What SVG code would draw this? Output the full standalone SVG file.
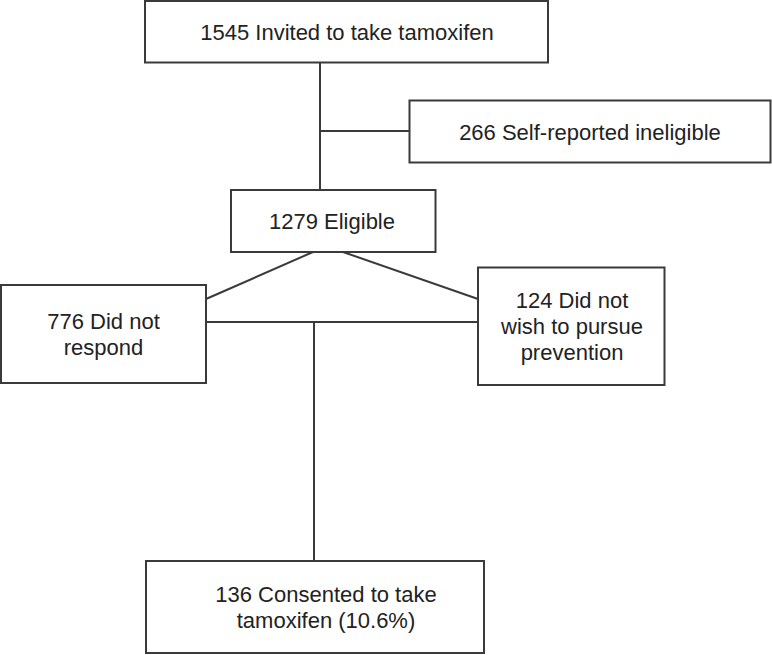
<svg xmlns="http://www.w3.org/2000/svg" width="772" height="655" viewBox="0 0 772 655">
<style>
.box{fill:#fff;stroke:#3a3a3a;stroke-width:2}
.ln{stroke:#3a3a3a;stroke-width:2;fill:none}
text{font-family:"Liberation Sans",Arial,sans-serif;font-size:22px;fill:#222;text-anchor:middle}
</style>
<rect width="772" height="655" fill="#fff"/>
<g id="connectors">
<line class="ln" x1="320" y1="62" x2="320" y2="190"/>
<line class="ln" x1="320" y1="131" x2="409" y2="131"/>
<line class="ln" x1="313" y1="252" x2="206" y2="299"/>
<line class="ln" x1="343" y1="252" x2="478" y2="299"/>
<line class="ln" x1="206" y1="322" x2="478" y2="322"/>
<line class="ln" x1="314" y1="322" x2="314" y2="561"/>
</g>
<g id="invited">
<rect class="box" x="145" y="1" width="403" height="61.5"/>
<text x="347" y="39.5">1545 Invited to take tamoxifen</text>
</g>
<g id="ineligible">
<rect class="box" x="409.5" y="100.5" width="361" height="62"/>
<text x="590" y="139.5">266 Self-reported ineligible</text>
</g>
<g id="eligible">
<rect class="box" x="231" y="190" width="204.5" height="62"/>
<text x="332" y="229">1279 Eligible</text>
</g>
<g id="norespond">
<rect class="box" x="1" y="285" width="205" height="98"/>
<text x="103.5" y="329">776 Did not</text>
<text x="103.5" y="355">respond</text>
</g>
<g id="nowish">
<rect class="box" x="478" y="267.5" width="186.5" height="117.5"/>
<text x="572" y="308">124 Did not</text>
<text x="572" y="334">wish to pursue</text>
<text x="572" y="360">prevention</text>
</g>
<g id="consented">
<rect class="box" x="146" y="561" width="338" height="92"/>
<text x="326" y="602">136 Consented to take</text>
<text x="326" y="628">tamoxifen (10.6%)</text>
</g>
</svg>
